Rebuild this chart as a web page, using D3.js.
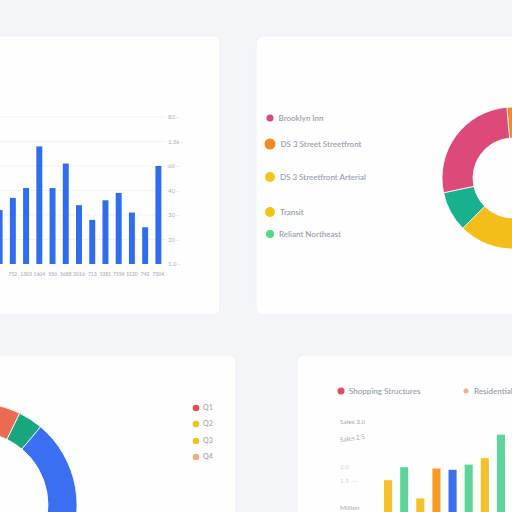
<!DOCTYPE html>
<html><head><meta charset="utf-8">
<script src="https://cdn.jsdelivr.net/npm/d3@7"></script>
<style>
html,body{margin:0;padding:0;background:#f3f5f9;overflow:hidden}
svg{display:block;font-family:Lato,"Noto Sans",sans-serif}
</style></head>
<body>
<svg id="c" width="512" height="512"></svg>
<script>
// ---- data ----
const barLabels = [" ","752","1303","1604","550","5688","2016","713","5381","7554","1120","742","7304"];
const barValues = [22,27,31,48,31,41,24,18,26,29,21,15,40];
const barTicks = [0,10,20,30,40,50,60];
const barTickLabels = ["1.0","20","30","40","60","1.5k","80"];

const donutALabels = ["Orange","Green","Yellow","Teal","Pink"];
const donutAValues = [65,70,95,33,97];
const donutAColors = ["#f08a2a","#4ccf8a","#f4be1a","#19b08f","#dd4a7a"];

const legendALabels = ["Brooklyn Inn","DS 3 Street Streetfront","DS 3 Streetfront Arterial","Transit","Reliant Northeast"];
const legendAColors = ["#e0457b","#f5891f","#f5c518","#f5c518","#4ade80"];
const legendASizes = [3.5,5.5,5,5,4];

const donutBLabels = ["Coral","Green","Blue","Yellow"];
const donutBValues = [116,14,160,70];
const donutBColors = ["#ec6a52","#17a67e","#3a6ff2","#f4c21c"];

const legendBLabels = ["Q1","Q2","Q3","Q4"];
const legendBColors = ["#e84a4a","#f6c21a","#f6c21a","#f3a98a"];

const groupLabels = ["A","B","C","D","E","F","G","H"];
const groupValues = [46,56,32,55,54,58,63,81];
const groupColors = ["#f5c02a","#5fd49a","#f5c02a","#f59a23","#3b6ef0","#5fd49a","#f5c02a","#5fd49a"];
const groupLegend = ["Shopping Structures","Residential"];
const groupLegendColors = ["#e84a5f","#f5b08a"];
const groupAxisLabels = ["Sales 3.0","Sales 2.5","2.0","1.5 ---","Million"];

// ---- drawing ----
const svg = d3.select("#c");
const cards = [
  {x:-10,y:36,w:230,h:279},
  {x:256,y:36,w:280,h:279},
  {x:-10,y:355,w:246,h:180},
  {x:297,y:355,w:240,h:180}
];
svg.selectAll("rect.card").data(cards).join("rect")
  .attr("class","card").attr("x",d=>d.x).attr("y",d=>d.y)
  .attr("width",d=>d.w).attr("height",d=>d.h).attr("rx",7)
  .attr("fill","#fefefe").attr("stroke","#eef1f6").attr("stroke-width",1);

// Card 1: bar chart
const x1 = d3.scaleBand().domain(barLabels).range([-7,165]).paddingInner(0.55).paddingOuter(0.275);
const y1 = d3.scaleLinear().domain([0,60]).range([264,117]);
const g1 = svg.append("g");
g1.selectAll("line.grid").data(barTicks.filter(t=>t>0)).join("line")
  .attr("x1",0).attr("x2",166).attr("y1",d=>y1(d)).attr("y2",d=>y1(d))
  .attr("stroke","#eef0f5").attr("stroke-width",0.8);
g1.selectAll("rect.bar").data(barValues).join("rect")
  .attr("x",(d,i)=>x1(barLabels[i])).attr("width",x1.bandwidth())
  .attr("y",d=>y1(d)).attr("height",d=>y1(0)-y1(d))
  .attr("fill","#2f6cf0");
const ax1 = d3.axisRight(y1).tickValues(barTicks).tickSize(0).tickPadding(0)
  .tickFormat((d,i)=>barTickLabels[i] + " -");
g1.append("g").attr("transform","translate(168,0)").call(ax1)
  .call(g=>g.select(".domain").remove())
  .selectAll("text").attr("fill","#aab0bf").attr("font-size",6).attr("font-family","Lato");
const ax1b = d3.axisBottom(x1).tickSize(0).tickPadding(8);
g1.append("g").attr("transform","translate(0,264)").call(ax1b)
  .call(g=>g.select(".domain").remove())
  .selectAll("text").attr("fill","#aab0bf").attr("font-size",5).attr("font-weight",600).attr("font-family","Lato");

// Card 2: donut + legend
const pieA = d3.pie().sort(null).value(d=>d).startAngle(-5*Math.PI/180).endAngle(355*Math.PI/180);
const arcA = d3.arc().innerRadius(40).outerRadius(71);
svg.append("g").attr("transform","translate(513,178)")
  .selectAll("path").data(pieA(donutAValues)).join("path")
  .attr("d",arcA).attr("fill",(d,i)=>donutAColors[i]).attr("stroke","#fff").attr("stroke-width",0.8);
const legAY = [118,144,177,212,234];
const lgA = svg.append("g").selectAll("g").data(legendALabels).join("g")
  .attr("transform",(d,i)=>`translate(270,${legAY[i]})`);
lgA.append("circle").attr("r",(d,i)=>legendASizes[i]).attr("fill",(d,i)=>legendAColors[i]);
lgA.append("text").attr("x",(d,i)=>legendASizes[i]+5).attr("dy","0.35em")
  .attr("font-size",8).attr("font-weight",600).attr("fill","#9aa1b5").text(d=>d);

// Card 3: donut + legend
const pieB = d3.pie().sort(null).value(d=>d).startAngle(-90*Math.PI/180).endAngle(270*Math.PI/180);
const arcB = d3.arc().innerRadius(73).outerRadius(102);
svg.append("g").attr("transform","translate(-25,505)")
  .selectAll("path").data(pieB(donutBValues)).join("path")
  .attr("d",arcB).attr("fill",(d,i)=>donutBColors[i]).attr("stroke","#fff").attr("stroke-width",0.8);
const legBY = [408,424,441,457];
const lgB = svg.append("g").selectAll("g").data(legendBLabels).join("g")
  .attr("transform",(d,i)=>`translate(196,${legBY[i]})`);
lgB.append("circle").attr("r",3.3).attr("fill",(d,i)=>legendBColors[i]);
lgB.append("text").attr("x",7).attr("dy","0.35em")
  .attr("font-size",7).attr("font-weight",600).attr("fill","#a4aabb").text(d=>d);

// Card 4: bars + legend
const x4 = d3.scaleBand().domain(groupLabels).range([380,509]).paddingInner(0.5).paddingOuter(0.25);
const y4 = d3.scaleLinear().domain([0,100]).range([540,410]);
svg.append("g").selectAll("rect").data(groupValues).join("rect")
  .attr("x",(d,i)=>x4(groupLabels[i])).attr("width",x4.bandwidth())
  .attr("y",d=>y4(d)).attr("height",d=>y4(0)-y4(d))
  .attr("fill",(d,i)=>groupColors[i]);
const legCX = [341,466];
const lg4 = svg.append("g").selectAll("g").data(groupLegend).join("g")
  .attr("transform",(d,i)=>`translate(${legCX[i]},391)`);
lg4.append("circle").attr("r",(d,i)=>i===0?3.5:2.5).attr("fill",(d,i)=>groupLegendColors[i]);
lg4.append("text").attr("x",8).attr("dy","0.35em")
  .attr("font-size",8).attr("font-weight",600).attr("fill","#9aa1b5").text(d=>d);
const axY = [422,440,467,481,508];
const axOp = [1,1,0.5,0.5,1];
svg.append("g").selectAll("text").data(groupAxisLabels).join("text")
  .attr("x",340).attr("y",(d,i)=>axY[i]).attr("dy","0.35em")
  .attr("transform",(d,i)=>i===1?`rotate(-8,340,${axY[i]})`:null)
  .attr("font-size",6.5).attr("fill","#a4aabb").attr("opacity",(d,i)=>axOp[i]).text(d=>d);
</script>
</body></html>
